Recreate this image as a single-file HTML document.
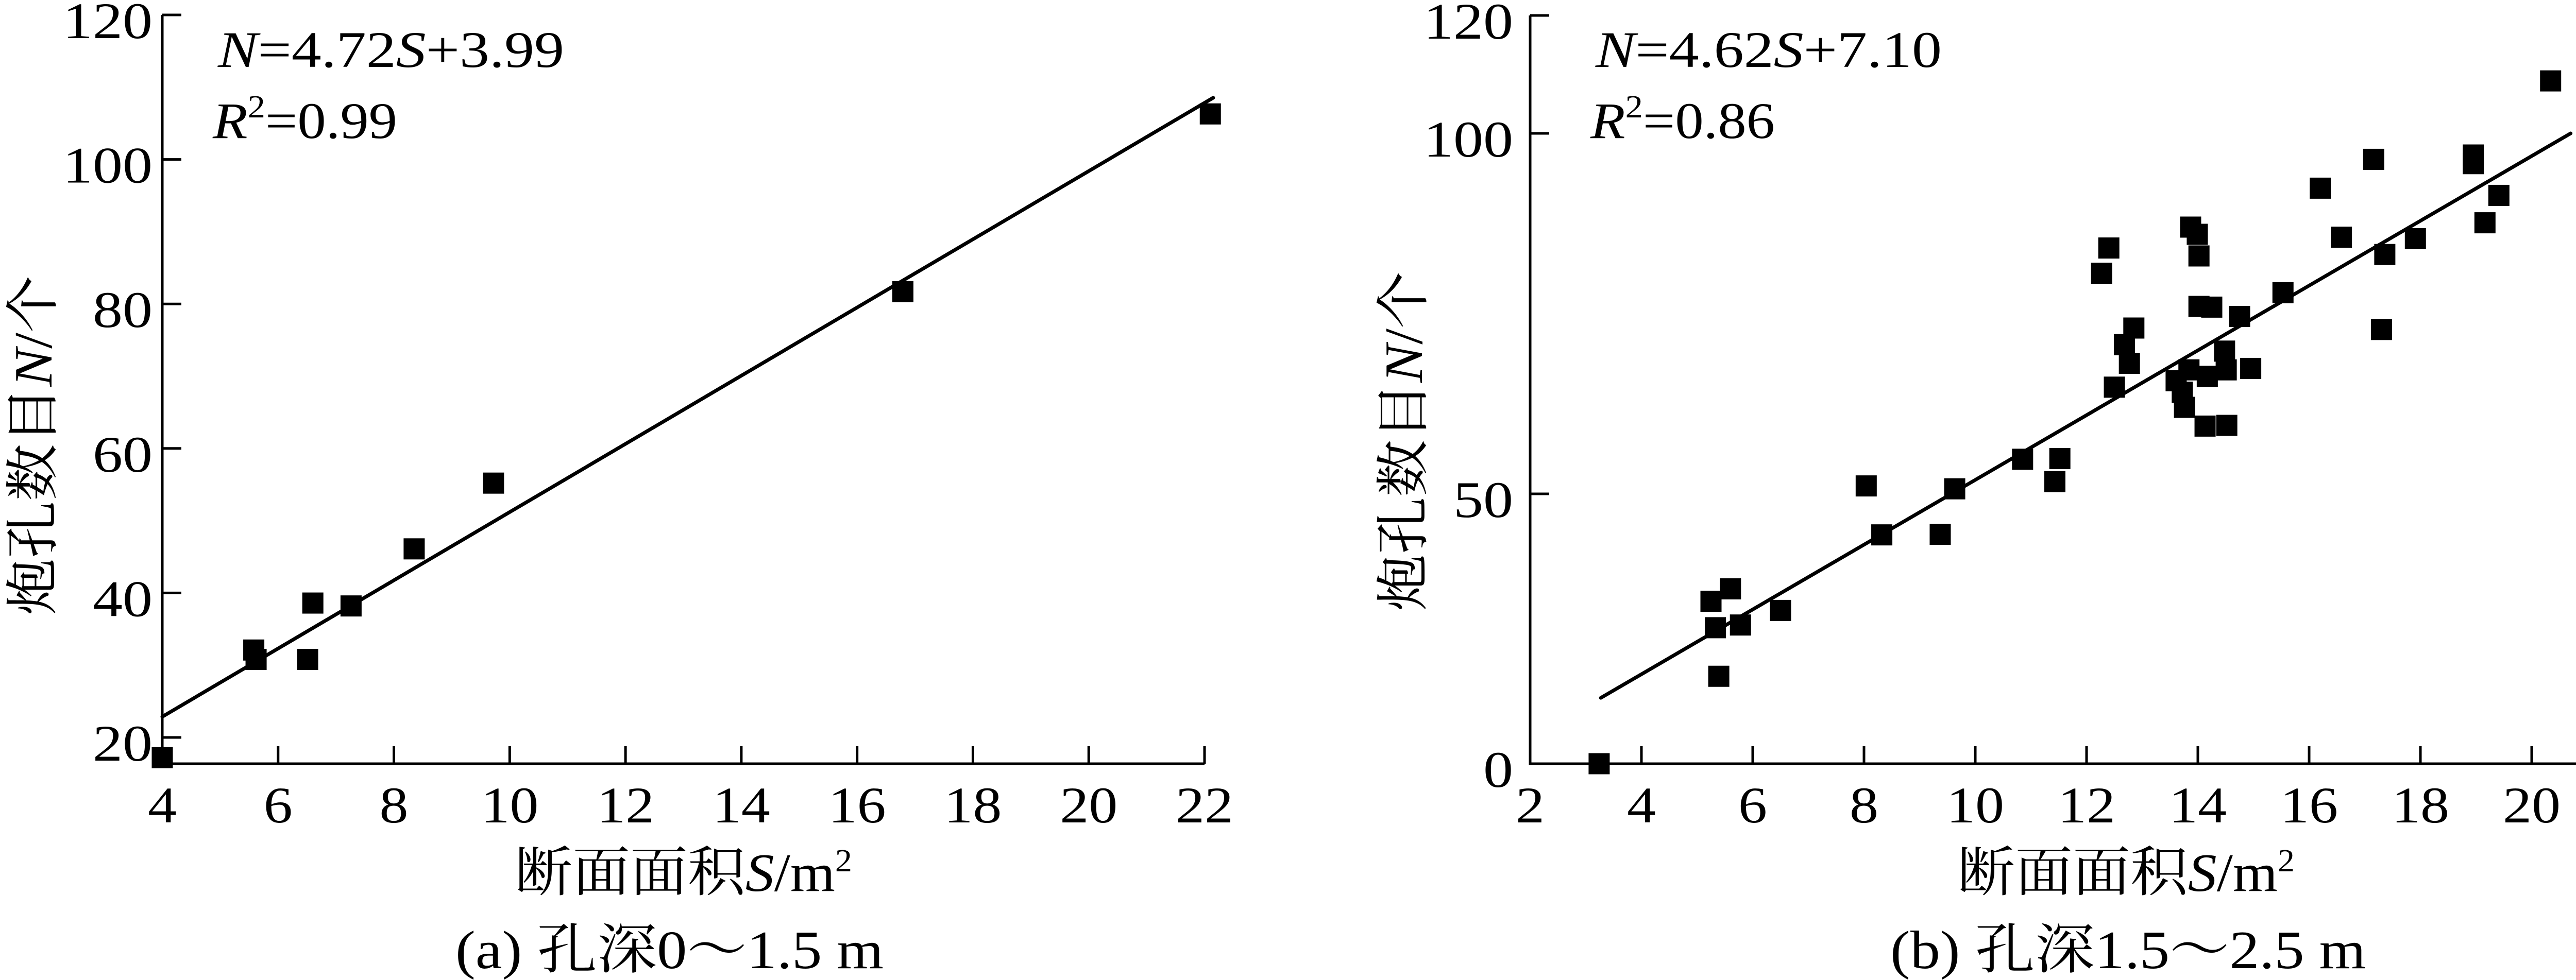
<!DOCTYPE html>
<html><head><meta charset="utf-8"><style>
html,body{margin:0;padding:0;background:#fff;width:5188px;height:1903px;overflow:hidden}
svg{display:block}
text{font-family:"Liberation Serif","Noto Serif CJK SC","Noto Sans CJK SC",serif;fill:#000}
</style></head><body>
<svg id="chart" width="5188" height="1903" viewBox="0 0 5188 1903" xmlns="http://www.w3.org/2000/svg"></svg>
<script>
// Panel (a) data
const aX = [4.0,5.58,5.62,6.51,6.60,7.26,8.35,9.72,16.79,22.1];
const aY = [17.2,32.1,30.8,30.8,38.6,38.2,46.1,55.2,81.7,106.3];
const aXTicks = [4,6,8,10,12,14,16,18,20,22];
const aYTicks = [20,40,60,80,100,120];
const aFit = [4.72,3.99];
const aFitRange = [4,22.15];
// Panel (b) data
const bX = [3.24,5.25,5.60,5.33,5.78,5.39,6.50,8.04,8.32,9.37,9.63,10.85,11.43,11.52,12.27,12.40,12.50,12.68,12.77,12.85,13.61,13.72,13.76,13.84,13.87,13.99,14.02,14.02,14.13,14.17,14.25,14.48,14.51,14.52,14.75,14.95,15.53,16.20,16.58,17.16,17.30,17.36,17.91,18.95,18.95,19.16,19.41,20.34,21.27];
const bY = [0,30.1,32.4,25.2,25.7,16.2,28.4,51.1,42.4,42.5,50.7,54.8,51.7,54.9,80.6,84.1,64.8,70.7,68.1,73.0,65.7,64.1,62.0,67.2,87.0,86.0,83.0,76.0,59.4,66.3,75.9,69.8,67.2,59.5,74.6,67.4,77.9,92.4,85.6,96.4,72.8,83.2,85.4,97.0,95.8,87.6,91.4,108.9,104.9];
const bXTicks = [2,4,6,8,10,12,14,16,18,20,22];
const bYTicks = [0,50,100,120];
const bFitEnds = [[3.27,12.2],[20.7,100]];

const NS="http://www.w3.org/2000/svg";
const svg=document.getElementById('chart');
function mk(tag,attrs,parent){const e=document.createElementNS(NS,tag);for(const k in attrs)e.setAttribute(k,attrs[k]);(parent||svg).appendChild(e);return e;}

function panel(o){
  const g=mk('g',{});
  
  
  const x0=o.xPix[0], yb=o.yb;
  const ax=mk('path',{d:`M${x0} ${o.yTop} L${x0} ${yb} L${o.xPix[1]} ${yb}`,fill:'none',stroke:'#000','stroke-width':5},g);
  
  
  o.xTicks.forEach(t=>{
    const px=o.sx(t);
    const tk=mk('line',{x1:px,x2:px,y1:yb,y2:yb-34,stroke:'#000','stroke-width':5},g);
    
    
    const s=String(t);
    const tl=mk('text',{x:px,y:1597,'font-size':100,'text-anchor':'middle',textLength:s.length*56,lengthAdjust:'spacingAndGlyphs'},g);
    tl.textContent=s;
    
    
  });
  o.yTicks.forEach(t=>{
    const py=o.sy(t);
    if(py<yb-2){
      const tk=mk('line',{x1:x0,x2:x0+37,y1:py,y2:py,stroke:'#000','stroke-width':5},g);
      
      
    }
    const s=String(t);
    const tl=mk('text',{x:o.labR,y:py+45,'font-size':100,'text-anchor':'end',textLength:s.length*58,lengthAdjust:'spacingAndGlyphs'},g);
    tl.textContent=s;
    
    
  });
  const fl=mk('line',{x1:o.sx(o.fit[0][0]),y1:o.sy(o.fit[0][1]),x2:o.sx(o.fit[1][0]),y2:o.sy(o.fit[1][1]),stroke:'#000','stroke-width':7,'stroke-linecap':'round'},g);
  
  
  o.xs.forEach((v,i)=>{
    const r=mk('rect',{x:o.sx(v)-20.5,y:o.sy(o.ys[i])-20.5,width:41,height:41,fill:'#000'},g);
    
    
  });
  const eq=mk('text',{x:o.eqX,y:130,'font-size':100,textLength:672,lengthAdjust:'spacingAndGlyphs'},g);
  eq.innerHTML=o.eq;
  
  
  const r2=mk('text',{x:o.eqX-10,y:268,'font-size':100,textLength:358,lengthAdjust:'spacingAndGlyphs'},g);
  r2.innerHTML=o.r2;
  
  
  const xt=mk('text',{x:o.txStart,y:1730,'font-size':105,textLength:655,lengthAdjust:'spacingAndGlyphs'},g);
  xt.innerHTML='断面面积<tspan font-style="italic">S</tspan>/m<tspan font-size="62" dy="-38">2</tspan>';
  
  
  const yt=mk('text',{x:-330,y:0,'font-size':105,textLength:660,lengthAdjust:'spacingAndGlyphs',transform:`translate(${o.ytX},${o.ytY}) rotate(-90)`},g);
  yt.innerHTML='炮孔数目<tspan font-style="italic">N</tspan>/个';
  
  
  const cap=mk('text',{x:o.capX,y:1880,'font-size':105,textLength:o.capW,lengthAdjust:'spacingAndGlyphs'},g);
  cap.textContent=o.cap;
  
  
}

// panel a scales
const saX=v=>315+(v-4)*(2338-315)/18;
const saY=v=>1432-(v-20)*(1432-29)/100;
panel({name:'panel-a',xPix:[315,2338],yb:1483,yTop:29,sx:saX,sy:saY,xTicks:aXTicks,yTicks:aYTicks,labR:296,
  fit:[[aFitRange[0],aFit[0]*aFitRange[0]+aFit[1]],[aFitRange[1],aFit[0]*aFitRange[1]+aFit[1]]],
  xs:aX,ys:aY,eqX:423,
  eq:'<tspan font-style="italic">N</tspan>=4.72<tspan font-style="italic">S</tspan>+3.99',
  r2:'<tspan font-style="italic">R</tspan><tspan font-size="62" dy="-40">2</tspan><tspan dy="40">=0.99</tspan>',
  txStart:999,ytX:100,ytY:865,capX:884,capW:831,cap:'(a)  孔深0～1.5 m'});

// panel b scales (piecewise y axis as in original)
const sbX=v=>2970+(v-2)*(5130-2970)/20;
const bYv=[0,50,100,120], bYp=[1483,959,259,30];
function sbY(v){
  let i=0; if(v>50)i=1; if(v>100)i=2;
  return bYp[i]+(v-bYv[i])*(bYp[i+1]-bYp[i])/(bYv[i+1]-bYv[i]);
}
panel({name:'panel-b',xPix:[2970,5130],yb:1483,yTop:30,sx:sbX,sy:sbY,xTicks:bXTicks,yTicks:bYTicks,labR:2937,
  fit:bFitEnds,xs:bX,ys:bY,eqX:3097,
  eq:'<tspan font-style="italic">N</tspan>=4.62<tspan font-style="italic">S</tspan>+7.10',
  r2:'<tspan font-style="italic">R</tspan><tspan font-size="62" dy="-40">2</tspan><tspan dy="40">=0.86</tspan>',
  txStart:3799,ytX:2760,ytY:857,capX:3669,capW:923,cap:'(b)  孔深1.5～2.5 m'});
</script>
</body></html>
